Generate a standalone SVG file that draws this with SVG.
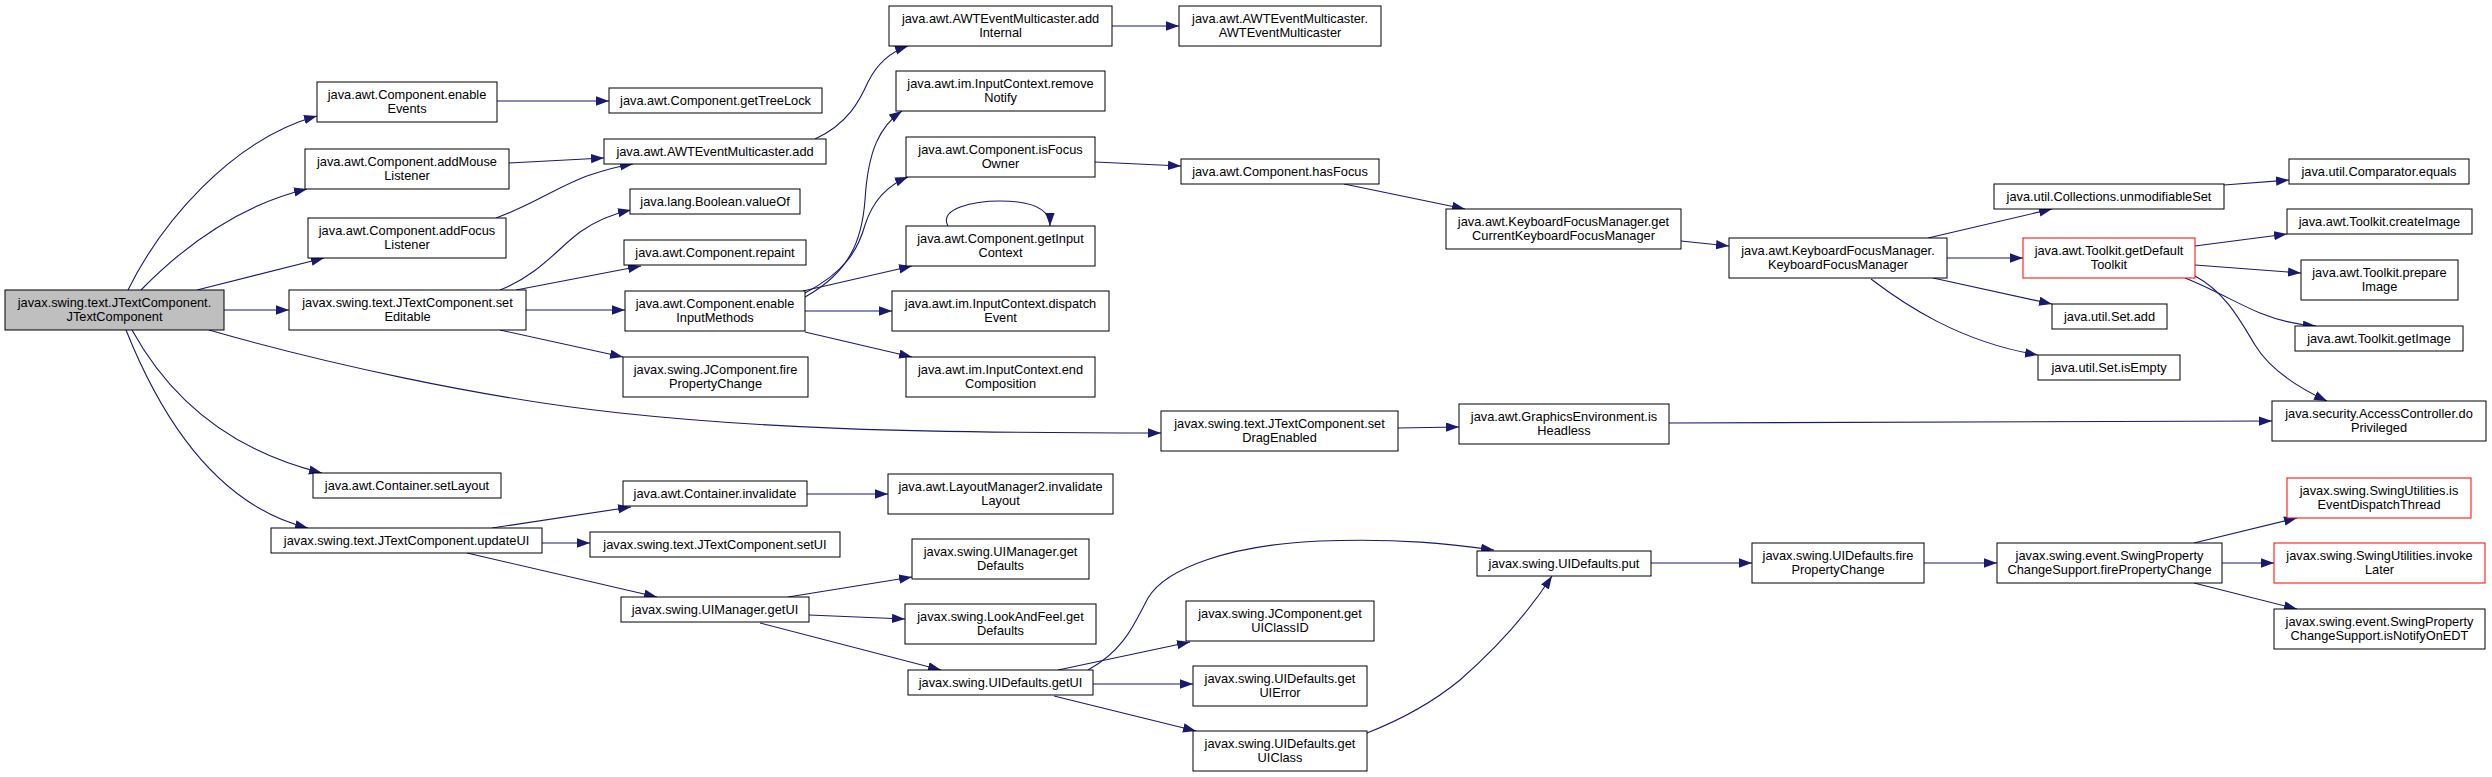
<svg xmlns="http://www.w3.org/2000/svg" width="2492" height="777" viewBox="0 0 2492 777">
<style>
.n rect{fill:#fff;stroke:#000;stroke-width:1}
.n.root rect{fill:#bfbfbf}
.n.red rect{stroke:#ff0000}
.n text{font-family:"Liberation Sans",Arial,sans-serif;font-size:12.8px;fill:#000;text-anchor:middle}
.e path{fill:none;stroke:#191970;stroke-width:1.1}
</style>
<defs>
<marker id="ah" markerWidth="14" markerHeight="10" refX="13" refY="4.65" orient="auto" markerUnits="userSpaceOnUse">
<path d="M0,0 L13,4.65 L0,9.3 z" fill="#191970"/>
</marker>
</defs>
<rect width="2492" height="777" fill="#fff"/>
<g id="connectors" class="e">
<path marker-end="url(#ah)" d="M128,290 C160,225 230,140 317,116"/>
<path marker-end="url(#ah)" d="M141,290 C185,245 240,205 307,189"/>
<path marker-end="url(#ah)" d="M197,290 L324,258"/>
<path marker-end="url(#ah)" d="M224,310 L289,310"/>
<path marker-end="url(#ah)" d="M209,330 C320,362 480,398 620,413 C760,428 900,433 1161,433"/>
<path marker-end="url(#ah)" d="M132,330 C165,390 220,448 322,473"/>
<path marker-end="url(#ah)" d="M126,330 C160,415 215,505 308,528"/>
<path marker-end="url(#ah)" d="M497,101 L609,101"/>
<path marker-end="url(#ah)" d="M509,163 L604,158"/>
<path marker-end="url(#ah)" d="M496,218 C535,204 560,185 590,175 C605,170 620,166 633,164"/>
<path marker-end="url(#ah)" d="M500,290 C540,274 558,248 580,232 C597,220 612,214 631,210"/>
<path marker-end="url(#ah)" d="M516,290 L641,266"/>
<path marker-end="url(#ah)" d="M526,310 L625,310"/>
<path marker-end="url(#ah)" d="M500,330 L623,357"/>
<path marker-end="url(#ah)" d="M815,139 C848,124 860,100 868,82 C878,62 893,51 908,46"/>
<path marker-end="url(#ah)" d="M805,297 C850,272 862,240 865,200 C868,150 880,126 902,111"/>
<path marker-end="url(#ah)" d="M805,293 C845,272 858,250 865,225 C873,200 888,185 908,177"/>
<path marker-end="url(#ah)" d="M803,291 L912,266"/>
<path marker-end="url(#ah)" d="M805,311 L892,311"/>
<path marker-end="url(#ah)" d="M805,332 L912,357"/>
<path marker-end="url(#ah)" d="M1095,162 L1181,166"/>
<path marker-end="url(#ah)" d="M948,226 C938,208 975,201 1000,201 C1030,201 1050,208 1050,226"/>
<path marker-end="url(#ah)" d="M1112,26 L1179,26"/>
<path marker-end="url(#ah)" d="M1344,184 L1465,209"/>
<path marker-end="url(#ah)" d="M1681,241 L1729,246"/>
<path marker-end="url(#ah)" d="M1928,238 L2052,209"/>
<path marker-end="url(#ah)" d="M1947,258 L2023,258"/>
<path marker-end="url(#ah)" d="M1933,278 L2052,304"/>
<path marker-end="url(#ah)" d="M1871,279 C1905,305 1960,342 2038,355"/>
<path marker-end="url(#ah)" d="M2224,185 L2289,180"/>
<path marker-end="url(#ah)" d="M2195,246 L2287,234"/>
<path marker-end="url(#ah)" d="M2195,265 L2301,273"/>
<path marker-end="url(#ah)" d="M2185,278 C2215,290 2240,305 2260,313 C2280,321 2298,325 2316,326"/>
<path marker-end="url(#ah)" d="M2195,276 C2225,292 2240,320 2255,345 C2270,370 2297,387 2327,401"/>
<path marker-end="url(#ah)" d="M1398,428 L1459,427"/>
<path marker-end="url(#ah)" d="M1669,423 L2272,421"/>
<path marker-end="url(#ah)" d="M492,528 L631,507"/>
<path marker-end="url(#ah)" d="M542,543 L590,543"/>
<path marker-end="url(#ah)" d="M467,553 L657,597"/>
<path marker-end="url(#ah)" d="M807,494 L888,494"/>
<path marker-end="url(#ah)" d="M788,597 L912,577"/>
<path marker-end="url(#ah)" d="M809,615 L905,619"/>
<path marker-end="url(#ah)" d="M760,623 L941,670"/>
<path marker-end="url(#ah)" d="M1088,670 C1125,650 1135,622 1148,598 C1166,568 1230,545 1320,541 C1400,538 1450,544 1494,550"/>
<path marker-end="url(#ah)" d="M1058,670 L1190,642"/>
<path marker-end="url(#ah)" d="M1093,684 L1193,684"/>
<path marker-end="url(#ah)" d="M1054,696 L1196,731"/>
<path marker-end="url(#ah)" d="M1367,733 C1400,720 1432,703 1460,680 C1500,645 1530,610 1552,576"/>
<path marker-end="url(#ah)" d="M1651,563 L1752,563"/>
<path marker-end="url(#ah)" d="M1924,563 L1997,563"/>
<path marker-end="url(#ah)" d="M2194,543 L2297,518"/>
<path marker-end="url(#ah)" d="M2222,563 L2274,563"/>
<path marker-end="url(#ah)" d="M2194,583 L2297,609"/>
</g>
<g id="n0" class="n root"><rect x="5" y="290" width="219" height="40"/><text x="114.5" y="306.5">javax.swing.text.JTextComponent.</text><text x="114.5" y="321">JTextComponent</text></g>
<g id="n1" class="n"><rect x="317" y="82" width="180" height="40"/><text x="407" y="98.5">java.awt.Component.enable</text><text x="407" y="113">Events</text></g>
<g id="n2" class="n"><rect x="305" y="149" width="204" height="40"/><text x="407" y="165.5">java.awt.Component.addMouse</text><text x="407" y="180">Listener</text></g>
<g id="n3" class="n"><rect x="308" y="218" width="198" height="40"/><text x="407" y="234.5">java.awt.Component.addFocus</text><text x="407" y="249">Listener</text></g>
<g id="n4" class="n"><rect x="289" y="290" width="237" height="40"/><text x="407.5" y="306.5">javax.swing.text.JTextComponent.set</text><text x="407.5" y="321">Editable</text></g>
<g id="n5" class="n"><rect x="313" y="473" width="188" height="25"/><text x="407" y="490">java.awt.Container.setLayout</text></g>
<g id="n6" class="n"><rect x="271" y="528" width="271" height="25"/><text x="406.5" y="545">javax.swing.text.JTextComponent.updateUI</text></g>
<g id="n7" class="n"><rect x="609" y="88" width="213" height="25"/><text x="715.5" y="105">java.awt.Component.getTreeLock</text></g>
<g id="n8" class="n"><rect x="604" y="139" width="222" height="25"/><text x="715" y="156">java.awt.AWTEventMulticaster.add</text></g>
<g id="n9" class="n"><rect x="630" y="189" width="170" height="25"/><text x="715" y="206">java.lang.Boolean.valueOf</text></g>
<g id="n10" class="n"><rect x="624" y="240" width="182" height="25"/><text x="715" y="257">java.awt.Component.repaint</text></g>
<g id="n11" class="n"><rect x="625" y="291" width="180" height="40"/><text x="715" y="307.5">java.awt.Component.enable</text><text x="715" y="322">InputMethods</text></g>
<g id="n12" class="n"><rect x="623" y="357" width="185" height="40"/><text x="715.5" y="373.5">javax.swing.JComponent.fire</text><text x="715.5" y="388">PropertyChange</text></g>
<g id="n13" class="n"><rect x="623" y="481" width="184" height="25"/><text x="715" y="498">java.awt.Container.invalidate</text></g>
<g id="n14" class="n"><rect x="590" y="532" width="250" height="25"/><text x="715" y="549">javax.swing.text.JTextComponent.setUI</text></g>
<g id="n15" class="n"><rect x="621" y="597" width="188" height="25"/><text x="715" y="614">javax.swing.UIManager.getUI</text></g>
<g id="n16" class="n"><rect x="889" y="6" width="223" height="40"/><text x="1000.5" y="22.5">java.awt.AWTEventMulticaster.add</text><text x="1000.5" y="37">Internal</text></g>
<g id="n17" class="n"><rect x="896" y="71" width="209" height="40"/><text x="1000.5" y="87.5">java.awt.im.InputContext.remove</text><text x="1000.5" y="102">Notify</text></g>
<g id="n18" class="n"><rect x="906" y="137" width="189" height="40"/><text x="1000.5" y="153.5">java.awt.Component.isFocus</text><text x="1000.5" y="168">Owner</text></g>
<g id="n19" class="n"><rect x="906" y="226" width="189" height="40"/><text x="1000.5" y="242.5">java.awt.Component.getInput</text><text x="1000.5" y="257">Context</text></g>
<g id="n20" class="n"><rect x="892" y="291" width="217" height="40"/><text x="1000.5" y="307.5">java.awt.im.InputContext.dispatch</text><text x="1000.5" y="322">Event</text></g>
<g id="n21" class="n"><rect x="906" y="357" width="189" height="40"/><text x="1000.5" y="373.5">java.awt.im.InputContext.end</text><text x="1000.5" y="388">Composition</text></g>
<g id="n22" class="n"><rect x="888" y="474" width="225" height="40"/><text x="1000.5" y="490.5">java.awt.LayoutManager2.invalidate</text><text x="1000.5" y="505">Layout</text></g>
<g id="n23" class="n"><rect x="912" y="539" width="177" height="40"/><text x="1000.5" y="555.5">javax.swing.UIManager.get</text><text x="1000.5" y="570">Defaults</text></g>
<g id="n24" class="n"><rect x="905" y="604" width="191" height="40"/><text x="1000.5" y="620.5">javax.swing.LookAndFeel.get</text><text x="1000.5" y="635">Defaults</text></g>
<g id="n25" class="n"><rect x="908" y="670" width="185" height="25"/><text x="1000.5" y="687">javax.swing.UIDefaults.getUI</text></g>
<g id="n26" class="n"><rect x="1179" y="6" width="202" height="40"/><text x="1280" y="22.5">java.awt.AWTEventMulticaster.</text><text x="1280" y="37">AWTEventMulticaster</text></g>
<g id="n27" class="n"><rect x="1181" y="159" width="198" height="25"/><text x="1280" y="176">java.awt.Component.hasFocus</text></g>
<g id="n28" class="n"><rect x="1161" y="411" width="237" height="40"/><text x="1279.5" y="427.5">javax.swing.text.JTextComponent.set</text><text x="1279.5" y="442">DragEnabled</text></g>
<g id="n29" class="n"><rect x="1186" y="601" width="188" height="40"/><text x="1280" y="617.5">javax.swing.JComponent.get</text><text x="1280" y="632">UIClassID</text></g>
<g id="n30" class="n"><rect x="1193" y="666" width="174" height="40"/><text x="1280" y="682.5">javax.swing.UIDefaults.get</text><text x="1280" y="697">UIError</text></g>
<g id="n31" class="n"><rect x="1193" y="731" width="174" height="40"/><text x="1280" y="747.5">javax.swing.UIDefaults.get</text><text x="1280" y="762">UIClass</text></g>
<g id="n32" class="n"><rect x="1446" y="209" width="235" height="40"/><text x="1563.5" y="225.5">java.awt.KeyboardFocusManager.get</text><text x="1563.5" y="240">CurrentKeyboardFocusManager</text></g>
<g id="n33" class="n"><rect x="1459" y="404" width="210" height="40"/><text x="1564" y="420.5">java.awt.GraphicsEnvironment.is</text><text x="1564" y="435">Headless</text></g>
<g id="n34" class="n"><rect x="1477" y="551" width="174" height="25"/><text x="1564" y="568">javax.swing.UIDefaults.put</text></g>
<g id="n35" class="n"><rect x="1729" y="238" width="218" height="40"/><text x="1838" y="254.5">java.awt.KeyboardFocusManager.</text><text x="1838" y="269">KeyboardFocusManager</text></g>
<g id="n36" class="n"><rect x="1752" y="543" width="172" height="40"/><text x="1838" y="559.5">javax.swing.UIDefaults.fire</text><text x="1838" y="574">PropertyChange</text></g>
<g id="n37" class="n"><rect x="1994" y="184" width="230" height="25"/><text x="2109" y="201">java.util.Collections.unmodifiableSet</text></g>
<g id="n38" class="n red"><rect x="2023" y="238" width="172" height="40"/><text x="2109" y="254.5">java.awt.Toolkit.getDefault</text><text x="2109" y="269">Toolkit</text></g>
<g id="n39" class="n"><rect x="2052" y="304" width="115" height="25"/><text x="2109.5" y="321">java.util.Set.add</text></g>
<g id="n40" class="n"><rect x="2038" y="355" width="142" height="25"/><text x="2109" y="372">java.util.Set.isEmpty</text></g>
<g id="n41" class="n"><rect x="1997" y="543" width="225" height="40"/><text x="2109.5" y="559.5">javax.swing.event.SwingProperty</text><text x="2109.5" y="574">ChangeSupport.firePropertyChange</text></g>
<g id="n42" class="n"><rect x="2289" y="159" width="180" height="25"/><text x="2379" y="176">java.util.Comparator.equals</text></g>
<g id="n43" class="n"><rect x="2287" y="209" width="185" height="25"/><text x="2379.5" y="226">java.awt.Toolkit.createImage</text></g>
<g id="n44" class="n"><rect x="2301" y="260" width="157" height="40"/><text x="2379.5" y="276.5">java.awt.Toolkit.prepare</text><text x="2379.5" y="291">Image</text></g>
<g id="n45" class="n"><rect x="2295" y="326" width="168" height="25"/><text x="2379" y="343">java.awt.Toolkit.getImage</text></g>
<g id="n46" class="n"><rect x="2272" y="401" width="214" height="40"/><text x="2379" y="417.5">java.security.AccessController.do</text><text x="2379" y="432">Privileged</text></g>
<g id="n47" class="n red"><rect x="2287" y="478" width="184" height="40"/><text x="2379" y="494.5">javax.swing.SwingUtilities.is</text><text x="2379" y="509">EventDispatchThread</text></g>
<g id="n48" class="n red"><rect x="2274" y="543" width="211" height="40"/><text x="2379.5" y="559.5">javax.swing.SwingUtilities.invoke</text><text x="2379.5" y="574">Later</text></g>
<g id="n49" class="n"><rect x="2274" y="609" width="211" height="40"/><text x="2379.5" y="625.5">javax.swing.event.SwingProperty</text><text x="2379.5" y="640">ChangeSupport.isNotifyOnEDT</text></g>
</svg>
